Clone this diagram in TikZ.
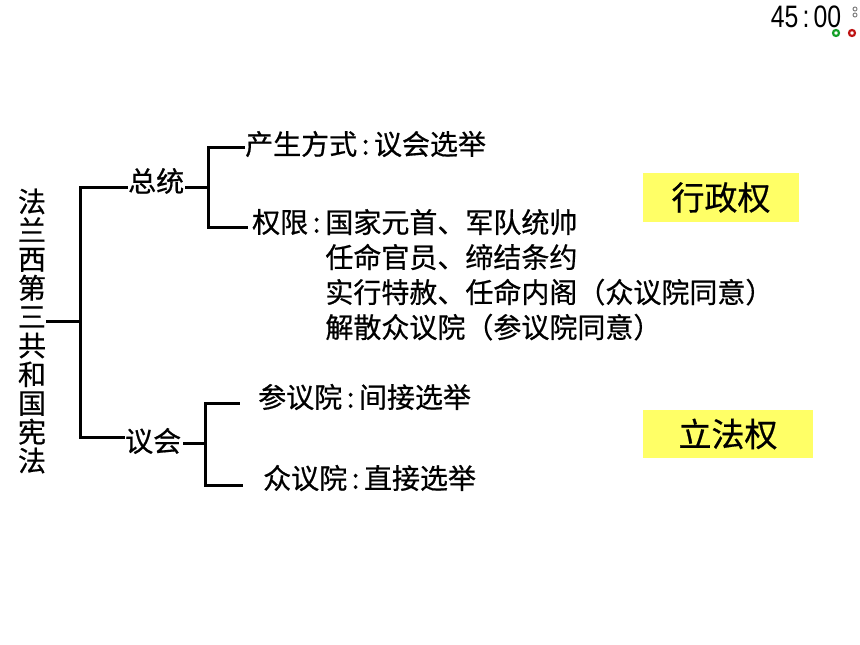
\documentclass[tikz,border=0pt]{standalone}
\usepackage{fontspec}
\setmainfont{Noto Sans CJK SC}[FakeBold=0.6]
\newfontfamily\timerfont{Liberation Sans}
\usetikzlibrary{positioning}

\newcommand{\mh}{\makebox[0.6em][c]{:}}
\definecolor{boxyellow}{RGB}{255,255,102}
\definecolor{ringgreen}{RGB}{20,160,40}
\definecolor{ringred}{RGB}{190,20,20}

\tikzset{
  item/.style={anchor=west, inner sep=0pt, font=\fontsize{28}{35}\selectfont},
  branch/.style={line width=3pt},
  powerbox/.style={fill=boxyellow, inner sep=0pt, font=\fontsize{33}{33}\selectfont},
}

\begin{document}
\begin{tikzpicture}[x=1pt,y=-1pt]
\useasboundingbox (0,0) rectangle (860,645);

% timer in the corner
\node[inner sep=0pt, font=\timerfont\fontsize{31}{31}\selectfont] (timer) at (806,17) {\scalebox{0.8}[1]{45\,:\,00}};
\draw[ringgreen, line width=2.2pt] (836,33) circle (3pt);
\draw[ringred, line width=2.2pt] (852,33) circle (3pt);
\draw[gray, line width=1pt] (855,9) circle (2pt) (855,15) circle (2pt);

% left title
\node[inner sep=0pt, align=center, font=\fontsize{28}{28.8}\selectfont] (title) at (32,331)
  {法\\兰\\西\\第\\三\\共\\和\\国\\宪\\法};

\node[item] (zt) at (128,181) {总统};
\node[item] (yh) at (125,441) {议会};

\node[item] (cs) at (245,144) {产生方式\mh 议会选举};
\node[item] (qx) at (252,222) {权限\mh};
\node[item, anchor=north west, align=left] (qxl) at (qx.north east)
  {国家元首、军队统帅\\任命官员、缔结条约\\实行特赦、任命内阁（众议院同意）\\解散众议院（参议院同意）};

\node[item] (cy) at (258,397) {参议院\mh 间接选举};
\node[item] (zy) at (263,478) {众议院\mh 直接选举};

% brackets
\coordinate (s1) at (80,321);
\draw[branch] (s1 -| title.east) -- (s1);
\draw[branch] (s1) |- ([yshift=-6pt]zt.west);
\draw[branch] (s1) |- ([yshift=4pt]yh.west);

\coordinate (s2) at (208,187);
\draw[branch] ([xshift=1pt,yshift=-6pt]zt.east) -- (s2);
\draw[branch] (s2) |- ([yshift=-3pt]cs.west);
\draw[branch] (s2) |- ([xshift=-4pt,yshift=-5pt]qx.west);

\coordinate (s3) at (205,443);
\draw[branch] ([xshift=2pt]yh.east |- s3) -- (s3);
\draw[branch] (s3) |- ([xshift=-18pt,yshift=-6pt]cy.west);
\draw[branch] (s3) |- ([xshift=-20pt,yshift=-7pt]zy.west);

% powers
\node[powerbox, minimum width=156pt, minimum height=49pt] (xz) at (721,197.5) {行政权};
\node[powerbox, minimum width=170pt, minimum height=48pt] (lf) at (728,434) {立法权};
\end{tikzpicture}
\end{document}
